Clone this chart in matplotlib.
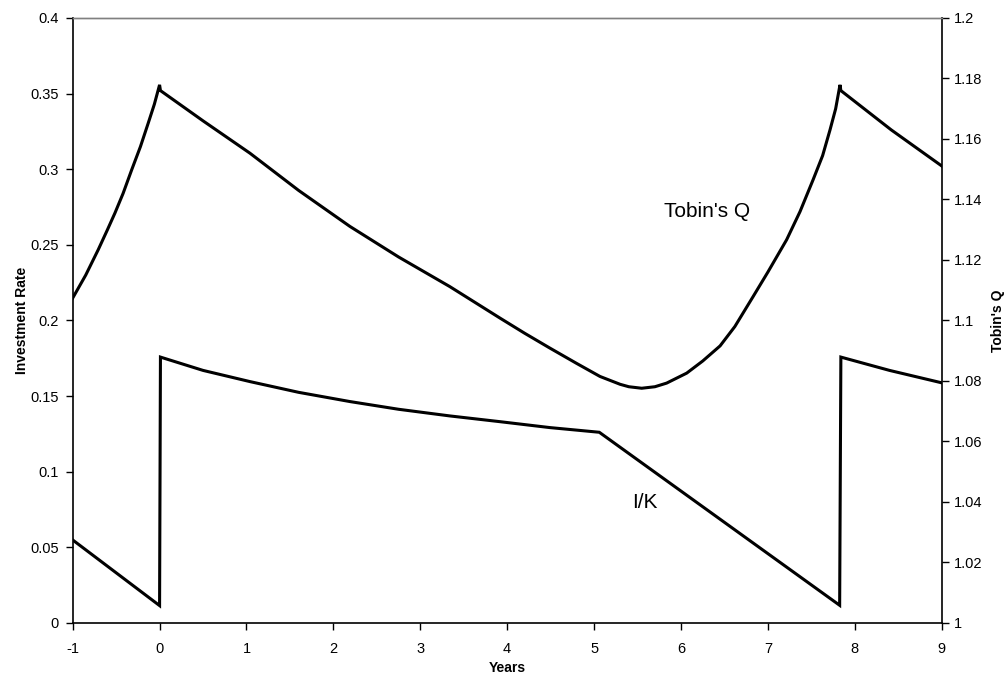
import matplotlib
matplotlib.use("Agg")
import matplotlib.pyplot as plt
from matplotlib.ticker import FuncFormatter, MultipleLocator

plt.rcParams['font.family'] = ['Liberation Sans', 'DejaVu Sans']

# Tobin's Q (right axis)
q_x = [-1.0, -0.85, -0.706, -0.6, -0.514, -0.42, -0.321, -0.22, -0.13, -0.06, 0.0,
       0.01, 0.5, 1.04, 1.6, 2.19, 2.75, 3.34, 3.917, 4.2, 4.49, 4.8, 5.068, 5.3,
       5.4, 5.548, 5.7, 5.835, 6.066, 6.25, 6.45, 6.62, 6.83, 7.0, 7.216, 7.37,
       7.52, 7.63, 7.715, 7.78, 7.83, 7.84, 8.42, 9.0]
q_y = [1.1074, 1.1150, 1.1234, 1.1300, 1.1355, 1.1420, 1.1498, 1.1575, 1.1653,
       1.1715, 1.1779, 1.1760, 1.1660, 1.1553, 1.1430, 1.1311, 1.1210, 1.1112,
       1.1008, 1.0958, 1.0909, 1.0858, 1.0815, 1.0789, 1.0781, 1.0776, 1.0781,
       1.0793, 1.0826, 1.0866, 1.0916, 1.0980, 1.1079, 1.1160, 1.1267, 1.1360,
       1.1465, 1.1545, 1.1630, 1.1700, 1.1779, 1.1760, 1.1630, 1.1511]

# Investment rate I/K (left axis)
ik_x = [-1.0, 0.0, 0.01, 0.5, 1.04, 1.6, 2.19, 2.75, 3.34, 3.917, 4.49, 5.06,
        7.826, 7.84, 8.4, 9.0]
ik_y = [0.0549, 0.0115, 0.1758, 0.1670, 0.1596, 0.1525, 0.1464, 0.1413, 0.1369,
        0.1331, 0.1292, 0.1261, 0.0117, 0.1758, 0.1670, 0.1588]

x_ticks = list(range(-1, 10))

fig = plt.figure(figsize=(10.08, 6.84), dpi=100)
ax = fig.add_axes([0.0721, 0.0892, 0.8621, 0.8845])
ax2 = ax.twinx()

ax.plot(ik_x, ik_y, color='black', lw=2.2, solid_joinstyle='miter')
ax2.plot(q_x, q_y, color='black', lw=2.2, solid_joinstyle='miter')

ax.set_xlim(-1, 9)
ax.set_ylim(0, 0.4)
ax2.set_ylim(1, 1.2)
ax.set_xticks(x_ticks)
ax.yaxis.set_major_locator(MultipleLocator(0.05))
ax2.yaxis.set_major_locator(MultipleLocator(0.02))
fmt = FuncFormatter(lambda v, p: ('%.2f' % v).rstrip('0').rstrip('.'))
ax.yaxis.set_major_formatter(fmt)
ax2.yaxis.set_major_formatter(fmt)
ax.xaxis.set_major_formatter(FuncFormatter(lambda v, p: '%d' % round(v)))

ax.tick_params(axis='y', direction='out', length=5, width=1, labelsize=10.5, pad=5)
ax.tick_params(axis='x', direction='out', length=5, width=1, labelsize=10.5, pad=9)
ax2.tick_params(axis='y', direction='out', length=5, width=1, labelsize=10.5, pad=4)

for a in (ax, ax2):
    a.spines['top'].set_color('#808080')
    a.spines['top'].set_linewidth(1)
ax.spines['left'].set_linewidth(1.2)
ax.spines['bottom'].set_linewidth(1.2)
ax2.spines['right'].set_linewidth(1.2)
ax.spines['right'].set_visible(False)
ax2.spines['left'].set_visible(False)
ax2.spines['bottom'].set_visible(False)

ax.set_xlabel('Years', fontsize=10, fontweight='bold', labelpad=3)
ax.set_ylabel('Investment Rate', fontsize=10, fontweight='bold', labelpad=1)
ax2.set_ylabel("Tobin's Q", fontsize=10, fontweight='bold', labelpad=6)

ax.text(5.59, 0.0796, 'I/K', fontsize=15, ha='center', va='center')
ax.text(6.30, 0.2718, "Tobin's Q", fontsize=15, ha='center', va='center')

fig.savefig('out.png', dpi=100)
